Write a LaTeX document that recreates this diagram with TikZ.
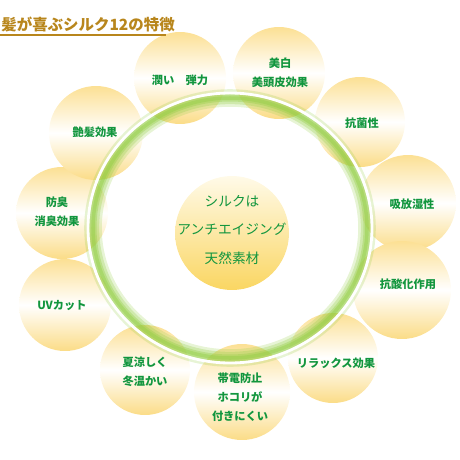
\documentclass[tikz,border=0pt]{standalone}
\usepackage{fontspec}
\setmainfont{Noto Sans CJK JP}
\usetikzlibrary{positioning}
\definecolor{leafgreen}{RGB}{18,150,62}
\definecolor{goldtitle}{RGB}{184,134,28}
\definecolor{orbtop}{RGB}{252,224,148}
\definecolor{orbbottom}{RGB}{251,220,135}
\definecolor{coretop}{RGB}{255,250,232}
\definecolor{corebottom}{RGB}{250,214,98}
\definecolor{ringglow}{RGB}{145,205,65}
\tikzset{
  orb/.style={circle, minimum size=#1, inner sep=0pt, shade,
    top color=orbtop, bottom color=orbbottom, middle color=white},
  orb/.default=1.84cm,
  lbl/.style={text=leafgreen, font=\bfseries\fontsize{6.4}{10.8}\selectfont, align=center},
}
\begin{document}
\begin{tikzpicture}[x=0.02cm,y=-0.02cm]
\useasboundingbox (0,0) rectangle (460,460);
% outer orbs
\node[orb] (o1) at (180,78) {};
\node[orb] (o2) at (279,73) {};
\node[orb=1.8cm] (o3) at (360,122) {};
\node[orb=1.92cm] (o4) at (408,203) {};
\node[orb=1.96cm] (o5) at (402,290) {};
\node[orb=1.8cm] (o6) at (333,358) {};
\node[orb=1.92cm] (o7) at (242,392) {};
\node[orb=1.8cm] (o8) at (145,370) {};
\node[orb] (o9) at (65,305) {};
\node[orb] (o10) at (62,213) {};
\node[orb=1.88cm] (o11) at (96,133) {};
% green ring
\foreach \w/\o in {10/0.22,7/0.28,4/0.35,2/0.4}
  \draw[ringglow, line width=\w pt, opacity=\o] (230,228) ellipse [x radius=137, y radius=130];
\draw[white, line width=1.6pt] (230,228) ellipse [x radius=142, y radius=135];
% centre orb
\node[circle, minimum size=2.28cm, inner sep=0pt, shade, top color=coretop,
  bottom color=corebottom] (core) at (232,233) {};
\node[lbl, font=\fontsize{7.8}{16}\selectfont] (coretxt) at (232,230)
  {シルクは\\アンチエイジング\\天然素材};
% labels
\node[lbl] (t1) at (180,80) {潤い　弾力};
\node[lbl] (t2) at (280,73) {美白\\美頭皮効果};
\node[lbl] (t3) at (362,123) {抗菌性};
\node[lbl] (t4) at (412,204) {吸放湿性};
\node[lbl] (t5) at (408,284) {抗酸化作用};
\node[lbl] (t6) at (336,363) {リラックス効果};
\node[lbl] (t7) at (240,397) {帯電防止\\ホコリが\\付きにくい};
\node[lbl] (t8) at (145,372) {夏涼しく\\冬温かい};
\node[lbl] (t9) at (62,306) {UVカット};
\node[lbl] (t10) at (57,212) {防臭\\消臭効果};
\node[lbl] (t11) at (95,132) {艶髪効果};
% title
\node[anchor=west, inner sep=0pt, text=goldtitle, font=\bfseries\fontsize{8.8}{10}\selectfont]
  (title) at (1,24) {髪が喜ぶシルク12の特徴};
\coordinate (ulend) at (166,35);
\draw[goldtitle, line width=0.6pt] (0,35) -- (ulend);
\end{tikzpicture}
\end{document}
